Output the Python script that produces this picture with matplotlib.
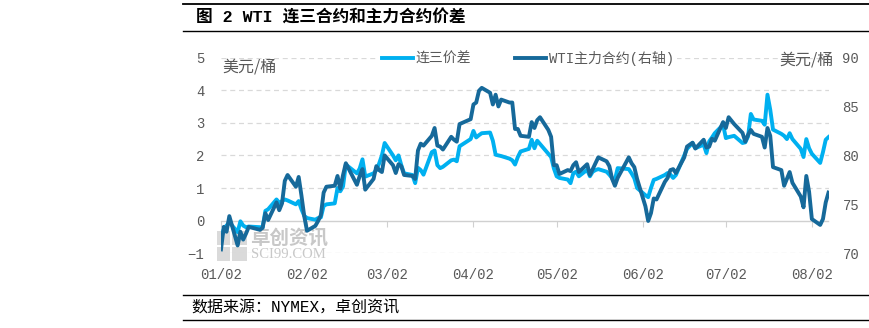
import numpy as np
import pandas as pd
import matplotlib
matplotlib.use("Agg")
import matplotlib.pyplot as plt
import matplotlib.dates as mdates
from matplotlib.lines import Line2D
from matplotlib.patches import Rectangle

# trading days (NYMEX) from 2024-01-02 to 2024-08-08
holidays = ["2024-01-15", "2024-02-19", "2024-03-29", "2024-05-27",
            "2024-06-19", "2024-07-04"]
dates = pd.bdate_range("2024-01-02", "2024-08-08", freq="C", holidays=holidays)

# 连三价差 (left axis, USD/bbl)
spread_jan = [-0.55, -0.25, -0.15, -0.05, -0.35, -0.02, -0.15, -0.2, -0.18, -0.2, -0.2,
              0.3, 0.35, 0.65, 0.55, 0.6, 0.65, 0.62, 0.5, 0.6, 0.35]
spread_feb = [0.15, 0.08, 0.03, 0.08, 0.1, 0.45, 0.5, 0.53, 1.0, 0.9, 1.05, 1.72,
              1.45, 1.6, 1.88, 1.35, 1.45, 1.55, 1.75, 2.0]
spread_mar = [2.38, 2.0, 1.85, 2.0, 1.7, 1.45, 1.4, 1.15, 1.62, 1.55, 1.41, 2.1,
              2.15, 1.7, 1.61, 1.65, 1.85, 1.87, 1.82, 2.28]
spread_apr = [2.5, 2.75, 2.55, 2.62, 2.68, 2.7, 2.45, 2.02, 2.0, 1.98, 1.9, 1.85,
              1.72, 1.95, 2.12, 2.2, 2.48, 2.22, 2.45, 2.35, 2.05, 1.95]
spread_may = [1.6, 1.36, 1.31, 1.26, 1.15, 1.45, 1.5, 1.36, 1.56, 1.36, 1.5, 1.55,
              1.58, 1.5, 1.41, 1.3, 1.26, 1.61, 1.58, 1.45, 1.3, 1.0]
spread_jun = [0.78, 0.72, 1.0, 1.25, 1.28, 1.4, 1.46, 1.41, 1.31, 1.4, 2.0, 2.2,
              2.38, 2.22, 2.33, 2.07, 2.43, 2.55, 2.68]
spread_jul = [2.94, 2.53, 2.56, 2.6, 2.38, 2.4, 2.58, 3.27, 3.1, 3.06, 2.94, 3.86,
              3.4, 2.79, 2.66, 2.6, 2.5, 2.68, 2.5, 2.2, 1.95, 2.5]
spread_aug = [2.22, 2.05, 1.77, 2.1, 2.48, 2.56]

# WTI主力合约 (right axis, USD/bbl)
wti_jan = [70.4, 72.7, 72.2, 73.8, 70.8, 72.2, 71.4, 72.0, 72.7, 72.4, 72.6, 74.1,
           73.4, 75.2, 74.4, 75.1, 77.4, 78.0, 76.8, 77.8, 75.9]
wti_feb = [73.8, 72.3, 72.8, 73.3, 73.9, 76.2, 76.8, 76.9, 77.9, 76.6, 78.0, 79.2,
           77.0, 77.9, 78.6, 76.5, 77.6, 78.9, 78.5, 78.3]
wti_mar = [80.0, 79.0, 78.2, 79.1, 78.9, 78.0, 77.9, 77.6, 80.5, 81.2, 81.0, 82.0,
           82.8, 81.0, 80.9, 80.6, 81.9, 81.6, 81.4, 83.2]
wti_apr = [83.7, 85.2, 85.4, 86.6, 86.9, 86.4, 85.2, 86.2, 85.0, 85.7, 85.4, 85.4,
           82.7, 82.7, 82.0, 81.9, 83.4, 82.8, 83.6, 83.9, 82.6, 81.9]
wti_may = [79.0, 79.0, 78.1, 78.5, 78.4, 79.0, 79.3, 78.3, 79.1, 78.0, 78.6, 79.2,
           79.8, 79.4, 78.9, 77.6, 76.9, 77.7, 79.8, 79.2, 78.8, 77.6]
wti_jun = [74.8, 73.3, 74.1, 75.6, 75.5, 77.3, 77.7, 78.5, 78.6, 78.2, 79.8, 80.9,
           81.3, 80.7, 81.6, 80.8, 80.9, 81.7, 81.5]
wti_jul = [83.4, 82.8, 83.9, 83.2, 82.3, 81.4, 82.1, 82.6, 82.2, 81.9, 80.8, 82.8,
           82.0, 78.8, 78.5, 76.9, 77.6, 78.3, 77.2, 75.8, 74.7, 77.9]
wti_aug = [76.3, 73.5, 72.9, 73.5, 75.2, 76.2]

spread = (spread_jan + spread_feb + spread_mar + spread_apr + spread_may
          + spread_jun + spread_jul + spread_aug)
wti = wti_jan + wti_feb + wti_mar + wti_apr + wti_may + wti_jun + wti_jul + wti_aug

month_ticks = pd.to_datetime(["2024-01-02", "2024-02-02", "2024-03-02", "2024-04-02",
                              "2024-05-02", "2024-06-02", "2024-07-02", "2024-08-02"])
left_ticks = [-1, 0, 1, 2, 3, 4, 5]
right_ticks = [70, 75, 80, 85, 90]

CJK = "Noto Sans CJK SC"
MONO = ["Liberation Mono", CJK]
light = "#00B0F0"
dark = "#16699A"
grey_txt = "#595959"

W, H = 869, 328
fig = plt.figure(figsize=(W / 100, H / 100), dpi=100)
ax = fig.add_axes([221 / W, (H - 253.3) / H, (828.5 - 221) / W, (253.3 - 57.5) / H])
ax2 = ax.twinx()

# watermark (behind the lines)
wm = "#c8c8c8"
for (x0, y0, w, h) in [(217, 231, 13, 14), (232, 231, 15, 14), (217, 247, 13, 14),
                       (232, 247, 15, 14)]:
    ax.add_patch(Rectangle((x0 / W, 1 - (y0 + h) / H), w / W, h / H,
                           transform=fig.transFigure, color="#dadada", lw=0,
                           zorder=0.5, clip_on=False))
ax.text(250 / W, 1 - 238 / H, "卓创资讯", transform=fig.transFigure, ha="left",
        va="center", fontsize=14, fontweight="bold", color=wm, family=[CJK], zorder=0.6)
ax.text(251 / W, 1 - 255 / H, "SCI99.COM", transform=fig.transFigure, ha="left",
        va="center", fontsize=10.5, color=wm, family=["Liberation Serif"], zorder=0.6)

ln1, = ax.plot(dates, spread, color=light, lw=2.8, label="连三价差", zorder=3)
ln2, = ax2.plot(dates, wti, color=dark, lw=2.8, label="WTI主力合约(右轴)", zorder=3)

ax.set_ylim(-1, 5)
ax2.set_ylim(70, 90)
ax.set_xlim(dates[0], dates[-1])
ax.set_yticks(left_ticks)
ax2.set_yticks(right_ticks)

for y in left_ticks:
    if y != 0:
        ax.axhline(y, color="#d9d9d9", lw=0.9, ls=(0, (4, 3)), zorder=1)

for a in (ax, ax2):
    for s in a.spines.values():
        s.set_visible(False)
ax.spines["bottom"].set_visible(True)
ax.spines["bottom"].set_position(("data", 0))
ax.spines["bottom"].set_color("#d0d0d0")
ax.spines["bottom"].set_linewidth(1.0)

ax.set_xticks(month_ticks)
ax.xaxis.set_major_formatter(mdates.DateFormatter("%m/%d"))
ax.tick_params(axis="x", length=4, color="#d0d0d0", pad=30, labelsize=10,
               labelcolor=grey_txt)
ax.tick_params(axis="y", length=0, pad=12, labelsize=10, labelcolor=grey_txt)
ax2.tick_params(axis="y", length=0, pad=10, labelsize=10, labelcolor=grey_txt)
for lab in ax.get_xticklabels() + ax.get_yticklabels() + ax2.get_yticklabels():
    lab.set_family(MONO)

ax.text(0.002, 0.953, "美元/桶", transform=ax.transAxes, ha="left", va="center",
        fontsize=11.5, color=grey_txt, family=[CJK])
fig.text(834 / W, 1 - 60 / H, "美元/桶", ha="right", va="center",
         fontsize=11.5, color=grey_txt, family=[CJK])

leg = ax.legend(handles=[ln1, ln2], loc="center", ncol=2,
                bbox_to_anchor=(528 / W, 1 - 58 / H), bbox_transform=fig.transFigure,
                frameon=True, fancybox=False, edgecolor="none", facecolor="white",
                framealpha=1, handlelength=2.2, handletextpad=0.2, columnspacing=3.2,
                borderpad=0.2, prop={"family": MONO, "size": 10})
for t in leg.get_texts():
    t.set_color(grey_txt)
leg.set_zorder(5)

# title and footer
fig.add_artist(Line2D([183 / W, 1], [1 - 4 / H] * 2, color="black", lw=1.3))
fig.add_artist(Line2D([183 / W, 1], [1 - 31 / H] * 2, color="black", lw=1.0))
fig.text(196 / W, 1 - 18 / H, "图 2 WTI 连三合约和主力合约价差", ha="left", va="center",
         fontsize=12, fontweight="bold", family=MONO)
fig.add_artist(Line2D([183 / W, 1], [1 - 295 / H] * 2, color="black", lw=1.0))
fig.add_artist(Line2D([183 / W, 1], [1 - 320 / H] * 2, color="black", lw=1.0))
fig.text(191 / W, 1 - 307.5 / H, "数据来源：NYMEX，卓创资讯", ha="left", va="center",
         fontsize=11.5, family=MONO)

fig.savefig("out.png", dpi=100)
